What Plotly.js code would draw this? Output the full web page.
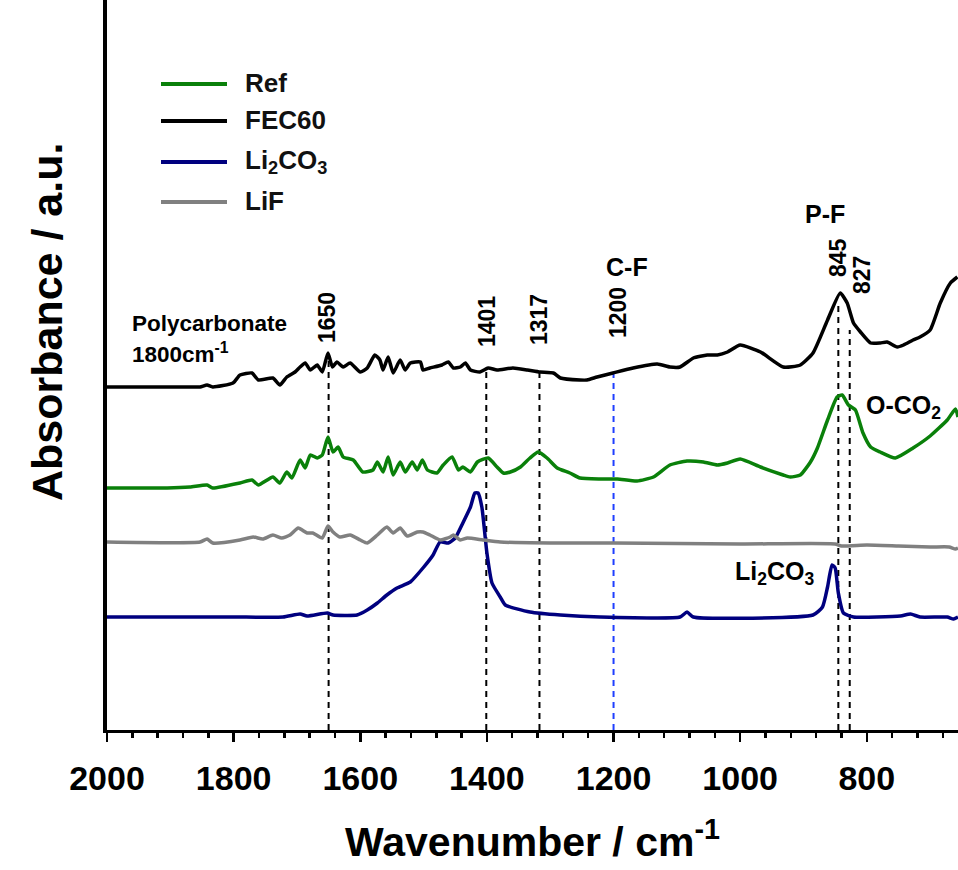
<!DOCTYPE html>
<html>
<head>
<meta charset="utf-8">
<script src="https://cdn.plot.ly/plotly-3.0.1.min.js"></script>
<style>html,body{margin:0;padding:0;background:#fff}#chart{width:958px;height:870px}</style>
</head>
<body>
<div id="chart"></div>
<script>
// ---- data (wavenumber cm^-1, absorbance a.u. with vertical offsets) ----
var fec60Wn = [2000,1932,1869,1853,1842,1833,1801,1790,1771,1761,1738,1727,1716,1703,1695,1687,1679,1668,1660,1651,1644,1637,1627,1616,1600,1589,1577,1569,1564,1556,1548,1537,1529,1521,1505,1501,1490,1471,1461,1453,1442,1434,1426,1411,1398,1384,1359,1336,1316,1295,1284,1253,1242,1226,1201,1169,1131,1111,1095,1074,1052,1036,1020,1000,968,932,905,885,862,842,831,821,810,794,779,768,752,742,727,716,700,684,668,657];
var fec60Abs = [343,343,343,343,345,343,347,355,357,350,352,345,353,358,363,367,360,365,358,377,363,368,363,367,358,362,375,370,360,373,357,370,360,367,368,360,362,365,368,362,363,367,360,358,362,360,362,360,358,357,352,350,350,353,357,362,366,363,363,372,375,375,378,385,378,363,365,377,410,437,427,407,398,387,387,388,383,385,390,393,400,427,447,453];

var refWn = [2000,1905,1869,1842,1833,1790,1771,1761,1738,1727,1716,1708,1695,1687,1679,1668,1660,1651,1643,1635,1627,1611,1596,1580,1573,1564,1556,1548,1537,1529,1518,1510,1502,1494,1479,1469,1455,1445,1438,1426,1415,1398,1384,1374,1363,1347,1332,1319,1305,1289,1269,1253,1221,1194,1163,1137,1111,1084,1058,1036,1020,1000,968,932,921,905,889,878,862,847,839,829,818,806,794,779,755,727,700,673,660,656];
var refAbs = [242,242,243,245,242,247,250,245,253,247,258,252,270,262,275,272,275,293,278,283,273,270,258,260,268,258,273,255,268,258,268,260,270,260,257,265,273,260,263,258,268,272,263,257,258,263,272,278,272,262,257,252,251,251,249,253,265,269,268,265,267,271,263,255,253,255,268,282,310,333,335,325,320,297,283,278,272,282,294,310,321,313];

var lifWn = [2000,1853,1842,1833,1790,1769,1754,1738,1724,1711,1698,1684,1675,1660,1651,1643,1632,1616,1600,1589,1573,1558,1548,1537,1526,1510,1501,1490,1474,1458,1453,1442,1431,1406,1379,1300,1200,1000,850,840,800,750,700,670,660,656];
var lifAbs = [188,188,191,187,190,193,191,195,192,195,202,197,197,192,204,198,193,195,190,187,195,203,197,202,194,198,198,195,190,193,195,190,192,190,188,187,187,186,186,184,185,184,183,183,181,182];

var li2co3Wn = [2000,1801,1722,1695,1684,1652,1643,1605,1589,1573,1558,1542,1521,1501,1485,1474,1461,1450,1438,1426,1419,1414,1408,1400,1392,1379,1371,1332,1284,1221,1095,1084,1074,885,870,862,855,850,845,837,821,747,731,716,673,663,656];
var li2co3Abs = [113,113,113,116,114,117,115,115,120,127,135,142,148,162,175,188,187,192,207,223,237,237,223,177,147,133,125,118,115,113,113,118,113,115,123,143,165,162,137,117,113,114,116,113,113,111,113];

var seriesNames = ['Ref', 'FEC60', 'Li<sub>2</sub>CO<sub>3</sub>', 'LiF'];
var seriesColors = ['#0a800a', '#000000', '#00007f', '#808080'];

var peakWn = [1650, 1401, 1317, 1200, 845, 827];
var peakTop = [375, 362, 360, 360, 425, 400];
var peakLabels = ['1650', '1401', '1317', '1200', '845', '827'];
var peakColors = ['#000', '#000', '#000', '#1f3fff', '#000', '#000'];

var xTickVals = [2000, 1800, 1600, 1400, 1200, 1000, 800];

// ---- layout helpers (plot area pixel -> paper) ----
var L = 107, T = 0, W = 851, H = 730;
function pxX(p) { return (p - L) / W; }
function pxY(p) { return (H - (p - T)) / H; }

var FONT = 'Arial, "Liberation Sans", sans-serif';

function mk(x, y, name, color) {
  return {x: x, y: y, name: name, type: 'scatter', mode: 'lines',
    line: {color: color, width: 3.5, shape: 'spline', smoothing: 0.5},
    showlegend: false, hoverinfo: 'x+y+name'};
}
var traces = [
  mk(li2co3Wn, li2co3Abs, 'Li2CO3', seriesColors[2]),
  mk(lifWn, lifAbs, 'LiF', seriesColors[3]),
  mk(refWn, refAbs, 'Ref', seriesColors[0]),
  mk(fec60Wn, fec60Abs, 'FEC60', seriesColors[1])
];

var shapes = [];
var annotations = [];

// dashed peak markers
for (var i = 0; i < peakWn.length; i++) {
  shapes.push({type: 'line', xref: 'x', yref: 'y', x0: peakWn[i], x1: peakWn[i], y0: 0, y1: peakTop[i],
    line: {color: peakColors[i], width: 2, dash: '6px,5px'}, layer: 'below'});
}
// peak number labels (rotated)
var peakLabelPx = [[327, 318], [487, 322], [539, 320], [618, 313], [838, 258], [862, 275]];
for (var i = 0; i < peakLabels.length; i++) {
  annotations.push({xref: 'paper', yref: 'paper', x: pxX(peakLabelPx[i][0]), y: pxY(peakLabelPx[i][1]),
    text: '<b>' + peakLabels[i] + '</b>', textangle: -90, showarrow: false, xanchor: 'center', yanchor: 'middle',
    font: {family: FONT, size: 23, color: '#000'}});
}

// custom legend
var legY = [84, 121, 162, 202];
for (var i = 0; i < seriesNames.length; i++) {
  shapes.push({type: 'line', xref: 'paper', yref: 'paper', x0: pxX(161), x1: pxX(227), y0: pxY(legY[i]), y1: pxY(legY[i]),
    line: {color: seriesColors[i], width: 4}});
  annotations.push({xref: 'paper', yref: 'paper', x: pxX(243), y: pxY(legY[i] - 1), text: '<b>' + seriesNames[i] + '</b>',
    showarrow: false, xanchor: 'left', yanchor: 'middle', font: {family: FONT, size: 26, color: '#111'}});
}

function lab(text, x, y, size, anchor) {
  annotations.push({xref: 'paper', yref: 'paper', x: pxX(x), y: pxY(y), text: '<b>' + text + '</b>', showarrow: false,
    xanchor: anchor || 'center', yanchor: 'middle', font: {family: FONT, size: size, color: '#000'}});
}
lab('Polycarbonate', 130, 324, 22.5, 'left');
lab('1800cm<sup>-1</sup>', 130, 353, 22.5, 'left');
lab('C-F', 627, 267, 25);
lab('P-F', 825, 214, 25);
lab('O-CO<sub>2</sub>', 903, 407, 25);
lab('Li<sub>2</sub>CO<sub>3</sub>', 774, 573, 25);

// y-axis title (placed as annotation to match its off-centre position)
annotations.push({xref: 'paper', yref: 'paper', x: pxX(47), y: pxY(322), text: '<b>Absorbance / a.u.</b>',
  textangle: -90, showarrow: false, xanchor: 'center', yanchor: 'middle', font: {family: FONT, size: 43, color: '#000'}});

var layout = {
  width: 958, height: 870,
  margin: {l: L, r: 0, t: T, b: 870 - H},
  paper_bgcolor: '#fff', plot_bgcolor: '#fff',
  showlegend: false,
  xaxis: {
    range: [2000, 656], autorange: false,
    showline: true, linecolor: '#000', linewidth: 3,
    showgrid: false, zeroline: false,
    ticks: 'outside', ticklen: 9, tickwidth: 2.5, tickcolor: '#000',
    tickvals: xTickVals, ticklabelstandoff: 7,
    minor: {dtick: 40, tick0: 2000, ticks: 'outside', ticklen: 5, tickwidth: 2.5, tickcolor: '#000', showgrid: false},
    tickfont: {family: FONT, size: 34, color: '#000', weight: 'bold'},
    title: {text: '<b>Wavenumber / cm<sup>-1</sup></b>', font: {family: FONT, size: 41, color: '#000'}, standoff: 32}
  },
  yaxis: {
    range: [0, 730], autorange: false,
    showline: true, linecolor: '#000', linewidth: 4,
    showgrid: false, zeroline: false, ticks: '', showticklabels: false
  },
  shapes: shapes,
  annotations: annotations
};

Plotly.newPlot('chart', traces, layout, {displayModeBar: false, staticPlot: true});
</script>
</body>
</html>
